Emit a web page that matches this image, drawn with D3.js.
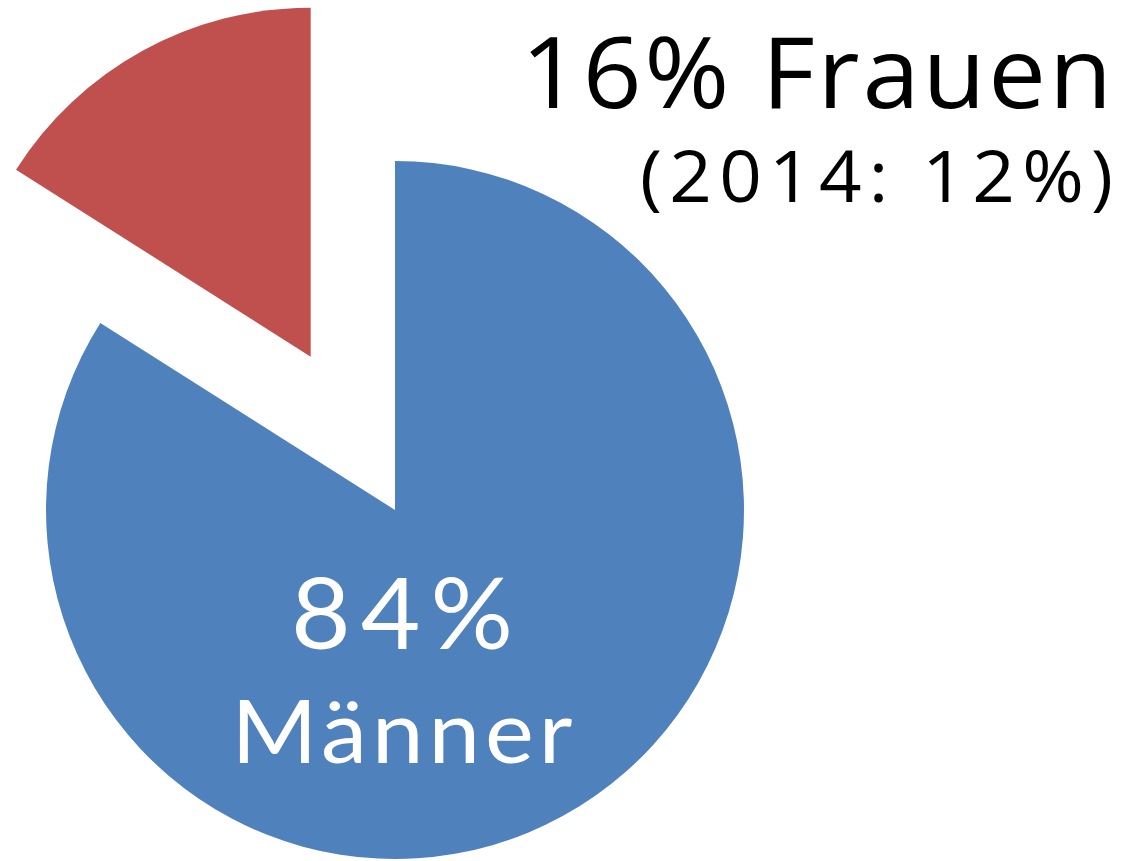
<!DOCTYPE html>
<html>
<head>
<meta charset="utf-8">
<script src="https://cdn.jsdelivr.net/npm/d3@7"></script>
<style>
  body { margin: 0; background: #fff; }
</style>
</head>
<body>
<div id="chart"></div>
<script>
// data
var groups = ["Männer", "Frauen"]
var shares = [84, 16]
var colors = ["#4F81BD", "#C0504D"]
var prevYear = "2014"
var prevShare = 12

var width = 1124, height = 861
var cx = 395, cy = 510
var radius = 349
var explode = 175   // how far the Frauen slice is pulled out
var stretch = 1.05  // glyphs in the original are a bit wider

var svg = d3.select("#chart")
    .append("svg")
    .attr("width", width)
    .attr("height", height)

var g = svg.append("g")
    .attr("transform", "translate(" + cx + "," + cy + ")")

var pie = d3.pie()
    .value(function (d) { return d.value })
    .sort(null)

var data_ready = pie(groups.map(function (k, i) { return { key: k, value: shares[i], color: colors[i] } }))

var arcGenerator = d3.arc()
    .innerRadius(0)
    .outerRadius(radius)

g.selectAll("path")
    .data(data_ready)
    .enter()
    .append("path")
    .attr("d", arcGenerator)
    .attr("fill", function (d) { return d.data.color })
    .attr("transform", function (d) {
        if (d.data.key != "Frauen") return null
        var mid = (d.startAngle + d.endAngle) / 2
        return "translate(" + (Math.sin(mid) * explode) + "," + (-Math.cos(mid) * explode) + ")"
    })

function addText(parent, x, y, anchor, len, font, size, fill, str) {
    parent.append("text")
        .attr("transform", "translate(" + x + "," + y + ") scale(" + stretch + ",1)")
        .attr("text-anchor", anchor)
        .attr("textLength", len / stretch)
        .attr("lengthAdjust", "spacing")
        .style("font-family", font)
        .style("font-size", size + "px")
        .style("fill", fill)
        .text(str)
}

// label inside the big slice
var men = data_ready[0]
addText(g, 7, 139, "middle", 222, "Lato, 'Open Sans', sans-serif", 98, "white", men.data.value + "%")
addText(g, 7, 253, "middle", 341, "Lato, 'Open Sans', sans-serif", 88, "white", men.data.key)

// title for the small slice, top right
var women = data_ready[1]
addText(svg, 1112, 108, "end", 591, "'Open Sans', sans-serif", 98, "black", women.data.value + "% " + women.data.key)
addText(svg, 1113, 202, "end", 473, "'Open Sans', sans-serif", 71, "black", "(" + prevYear + ": " + prevShare + "%)")
</script>
</body>
</html>
